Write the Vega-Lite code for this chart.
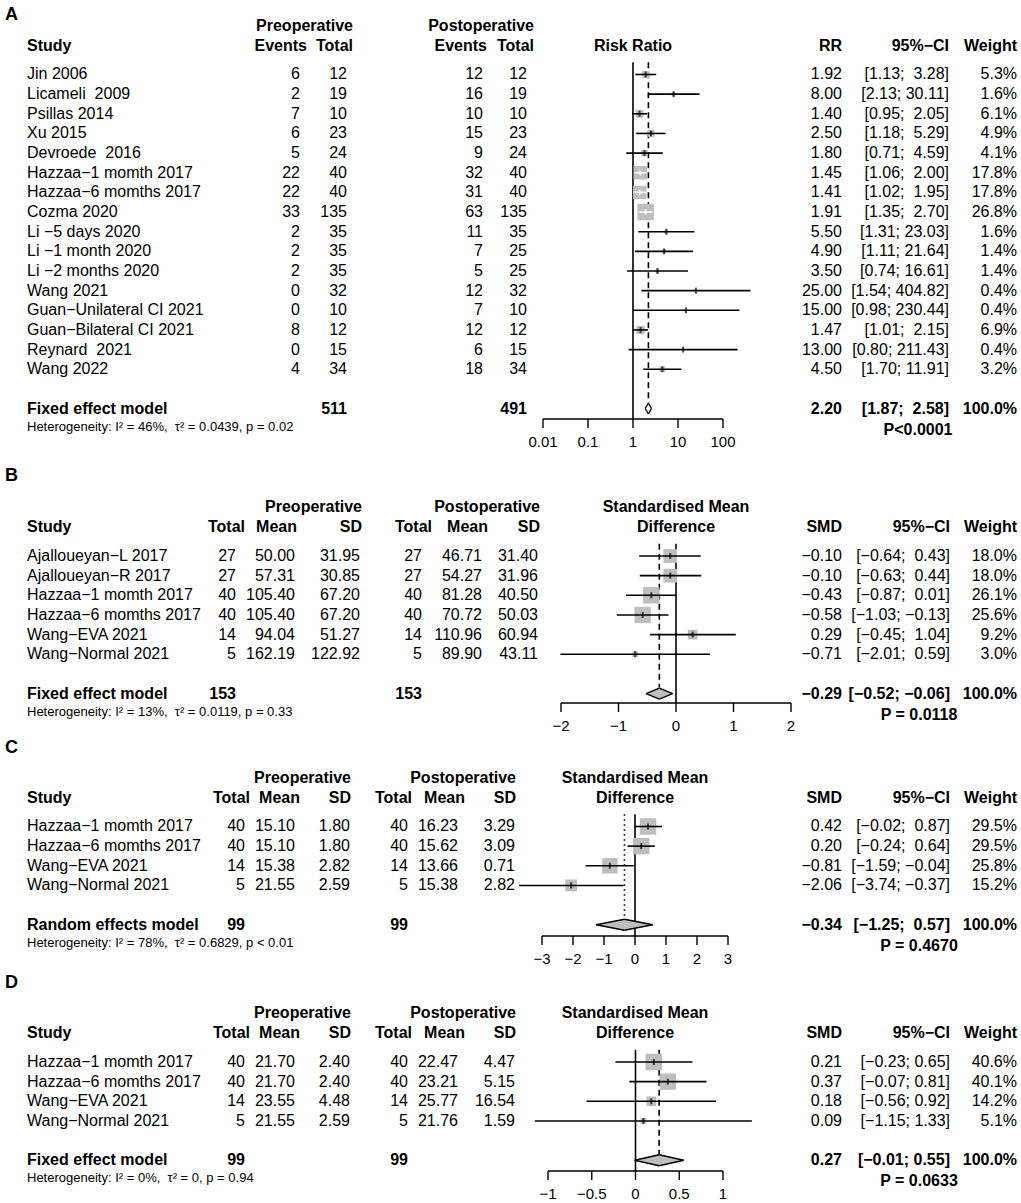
{
"$schema":"https://vega.github.io/schema/vega-lite/v6.json",
"padding":0,
"bounds":"flush",
"spacing":0,
"config":{
 "view":{"stroke":null},
 "font":"Liberation Sans",
 "text":{"font":"Liberation Sans","fontSize":16,"baseline":"middle","color":"black"},
 "rule":{"color":"black","strokeWidth":1.6},
 "line":{"color":"black","strokeWidth":1.4},
 "tick":{"color":"black"}
},
"vconcat":[
{
"width":1021,"height":419,
"data":{"values":[
{"type":"s","row":0,"study":"Jin 2006","ev_pre":6,"n_pre":12,"ev_post":12,"n_post":12,"est":1.92,"lo":1.13,"hi":3.28,"ci":"[1.13;\u00a0\u00a03.28]","w":0.053},
{"type":"s","row":1,"study":"Licameli\u00a0 2009","ev_pre":2,"n_pre":19,"ev_post":16,"n_post":19,"est":8.00,"lo":2.13,"hi":30.11,"ci":"[2.13; 30.11]","w":0.016},
{"type":"s","row":2,"study":"Psillas 2014","ev_pre":7,"n_pre":10,"ev_post":10,"n_post":10,"est":1.40,"lo":0.95,"hi":2.05,"ci":"[0.95;\u00a0\u00a02.05]","w":0.061},
{"type":"s","row":3,"study":"Xu 2015","ev_pre":6,"n_pre":23,"ev_post":15,"n_post":23,"est":2.50,"lo":1.18,"hi":5.29,"ci":"[1.18;\u00a0\u00a05.29]","w":0.049},
{"type":"s","row":4,"study":"Devroede\u00a0 2016","ev_pre":5,"n_pre":24,"ev_post":9,"n_post":24,"est":1.80,"lo":0.71,"hi":4.59,"ci":"[0.71;\u00a0\u00a04.59]","w":0.041},
{"type":"s","row":5,"study":"Hazzaa−1 momth 2017","ev_pre":22,"n_pre":40,"ev_post":32,"n_post":40,"est":1.45,"lo":1.06,"hi":2.00,"ci":"[1.06;\u00a0\u00a02.00]","w":0.178},
{"type":"s","row":6,"study":"Hazzaa−6 momths 2017","ev_pre":22,"n_pre":40,"ev_post":31,"n_post":40,"est":1.41,"lo":1.02,"hi":1.95,"ci":"[1.02;\u00a0\u00a01.95]","w":0.178},
{"type":"s","row":7,"study":"Cozma 2020","ev_pre":33,"n_pre":135,"ev_post":63,"n_post":135,"est":1.91,"lo":1.35,"hi":2.70,"ci":"[1.35;\u00a0\u00a02.70]","w":0.268},
{"type":"s","row":8,"study":"Li −5 days 2020","ev_pre":2,"n_pre":35,"ev_post":11,"n_post":35,"est":5.50,"lo":1.31,"hi":23.03,"ci":"[1.31; 23.03]","w":0.016},
{"type":"s","row":9,"study":"Li −1 month 2020","ev_pre":2,"n_pre":35,"ev_post":7,"n_post":25,"est":4.90,"lo":1.11,"hi":21.64,"ci":"[1.11; 21.64]","w":0.014},
{"type":"s","row":10,"study":"Li −2 months 2020","ev_pre":2,"n_pre":35,"ev_post":5,"n_post":25,"est":3.50,"lo":0.74,"hi":16.61,"ci":"[0.74; 16.61]","w":0.014},
{"type":"s","row":11,"study":"Wang 2021","ev_pre":0,"n_pre":32,"ev_post":12,"n_post":32,"est":25.00,"lo":1.54,"hi":404.82,"ci":"[1.54; 404.82]","w":0.004},
{"type":"s","row":12,"study":"Guan−Unilateral CI 2021","ev_pre":0,"n_pre":10,"ev_post":7,"n_post":10,"est":15.00,"lo":0.98,"hi":230.44,"ci":"[0.98; 230.44]","w":0.004},
{"type":"s","row":13,"study":"Guan−Bilateral CI 2021","ev_pre":8,"n_pre":12,"ev_post":12,"n_post":12,"est":1.47,"lo":1.01,"hi":2.15,"ci":"[1.01;\u00a0\u00a02.15]","w":0.069},
{"type":"s","row":14,"study":"Reynard\u00a0 2021","ev_pre":0,"n_pre":15,"ev_post":6,"n_post":15,"est":13.00,"lo":0.80,"hi":211.43,"ci":"[0.80; 211.43]","w":0.004},
{"type":"s","row":15,"study":"Wang 2022","ev_pre":4,"n_pre":34,"ev_post":18,"n_post":34,"est":4.50,"lo":1.70,"hi":11.91,"ci":"[1.70; 11.91]","w":0.032},
{"type":"m","row":17,"study":"Fixed effect model","n_pre":511,"n_post":491,"est":2.20,"lo":1.87,"hi":2.58,"ci":"[1.87;\u00a0\u00a02.58]","w":1.0,"het":"Heterogeneity: I² = 46%,\u00a0 τ² = 0.0439, p = 0.02","p":"P<0.0001","ticks":[0.01,0.1,1,10,100]}
]},
"encoding":{"y":{"field":"row","type":"quantitative","axis":null,"scale":{"domain":[-3.791,17.532],"reverse":true,"nice":false,"zero":false}}},
"resolve":{"scale":{"x":"independent"}},
"layer":[
{"layer":[
{"transform":[{"filter":"datum.type=='m'"}],"mark":{"type":"text","text":"A","align":"left","fontWeight":"bold","fontSize":18},"encoding":{"x":{"datum":0,"type":"quantitative","axis":null,"scale":{"domain":[0,1,2,2.5,3,3.5,4,4.5,5,5.5,6,7,7.5,8,9],"range":[5,27,300,307,347,353,483,487,527,534,633,842,918,949,1017],"nice":false,"zero":false}},"y":{"datum":-3.05,"type":"quantitative","axis":null}}},
{"transform":[{"filter":"datum.type=='m'"}],"mark":{"type":"text","text":"Preoperative","align":"right","fontWeight":"bold"},"encoding":{"x":{"datum":3.5,"type":"quantitative","axis":null},"y":{"datum":-2.49,"type":"quantitative","axis":null}}},
{"transform":[{"filter":"datum.type=='m'"}],"mark":{"type":"text","text":"Postoperative","align":"right","fontWeight":"bold"},"encoding":{"x":{"datum":5.5,"type":"quantitative","axis":null},"y":{"datum":-2.49,"type":"quantitative","axis":null}}},
{"transform":[{"filter":"datum.type=='m'"}],"mark":{"type":"text","text":"Study","align":"left","fontWeight":"bold"},"encoding":{"x":{"datum":1,"type":"quantitative","axis":null},"y":{"datum":-1.47,"type":"quantitative","axis":null}}},
{"transform":[{"filter":"datum.type=='m'"}],"mark":{"type":"text","text":"Events","align":"right","fontWeight":"bold"},"encoding":{"x":{"datum":2.5,"type":"quantitative","axis":null},"y":{"datum":-1.47,"type":"quantitative","axis":null}}},
{"transform":[{"filter":"datum.type=='m'"}],"mark":{"type":"text","text":"Total","align":"right","fontWeight":"bold"},"encoding":{"x":{"datum":3.5,"type":"quantitative","axis":null},"y":{"datum":-1.47,"type":"quantitative","axis":null}}},
{"transform":[{"filter":"datum.type=='m'"}],"mark":{"type":"text","text":"Events","align":"right","fontWeight":"bold"},"encoding":{"x":{"datum":4.5,"type":"quantitative","axis":null},"y":{"datum":-1.47,"type":"quantitative","axis":null}}},
{"transform":[{"filter":"datum.type=='m'"}],"mark":{"type":"text","text":"Total","align":"right","fontWeight":"bold"},"encoding":{"x":{"datum":5.5,"type":"quantitative","axis":null},"y":{"datum":-1.47,"type":"quantitative","axis":null}}},
{"transform":[{"filter":"datum.type=='m'"}],"mark":{"type":"text","text":"Risk Ratio","align":"center","fontWeight":"bold"},"encoding":{"x":{"datum":6,"type":"quantitative","axis":null},"y":{"datum":-1.47,"type":"quantitative","axis":null}}},
{"transform":[{"filter":"datum.type=='m'"}],"mark":{"type":"text","text":"RR","align":"right","fontWeight":"bold"},"encoding":{"x":{"datum":7,"type":"quantitative","axis":null},"y":{"datum":-1.47,"type":"quantitative","axis":null}}},
{"transform":[{"filter":"datum.type=='m'"}],"mark":{"type":"text","text":"95%−CI","align":"right","fontWeight":"bold"},"encoding":{"x":{"datum":8,"type":"quantitative","axis":null},"y":{"datum":-1.47,"type":"quantitative","axis":null}}},
{"transform":[{"filter":"datum.type=='m'"}],"mark":{"type":"text","text":"Weight","align":"right","fontWeight":"bold"},"encoding":{"x":{"datum":9,"type":"quantitative","axis":null},"y":{"datum":-1.47,"type":"quantitative","axis":null}}},
{"transform":[{"filter":"datum.type=='s'"}],"mark":{"type":"text","align":"left"},"encoding":{"x":{"datum":1,"type":"quantitative","axis":null},"text":{"field":"study"}}},
{"transform":[{"filter":"datum.type=='s'"}],"mark":{"type":"text","align":"right"},"encoding":{"x":{"datum":2,"type":"quantitative","axis":null},"text":{"field":"ev_pre","type":"quantitative","format":"d"}}},
{"transform":[{"filter":"datum.type=='s'"}],"mark":{"type":"text","align":"right"},"encoding":{"x":{"datum":3,"type":"quantitative","axis":null},"text":{"field":"n_pre","type":"quantitative","format":"d"}}},
{"transform":[{"filter":"datum.type=='s'"}],"mark":{"type":"text","align":"right"},"encoding":{"x":{"datum":4,"type":"quantitative","axis":null},"text":{"field":"ev_post","type":"quantitative","format":"d"}}},
{"transform":[{"filter":"datum.type=='s'"}],"mark":{"type":"text","align":"right"},"encoding":{"x":{"datum":5,"type":"quantitative","axis":null},"text":{"field":"n_post","type":"quantitative","format":"d"}}},
{"transform":[{"filter":"datum.type=='s'"}],"mark":{"type":"text","align":"right"},"encoding":{"x":{"datum":7,"type":"quantitative","axis":null},"text":{"field":"est","type":"quantitative","format":".2f"}}},
{"transform":[{"filter":"datum.type=='s'"}],"mark":{"type":"text","align":"right"},"encoding":{"x":{"datum":8,"type":"quantitative","axis":null},"text":{"field":"ci"}}},
{"transform":[{"filter":"datum.type=='s'"}],"mark":{"type":"text","align":"right"},"encoding":{"x":{"datum":9,"type":"quantitative","axis":null},"text":{"field":"w","type":"quantitative","format":".1%"}}},
{"transform":[{"filter":"datum.type=='m'"}],"mark":{"type":"text","align":"left","fontWeight":"bold"},"encoding":{"x":{"datum":1,"type":"quantitative","axis":null},"text":{"field":"study"}}},
{"transform":[{"filter":"datum.type=='m'"}],"mark":{"type":"text","align":"right","fontWeight":"bold"},"encoding":{"x":{"datum":3,"type":"quantitative","axis":null},"text":{"field":"n_pre","type":"quantitative","format":"d"}}},
{"transform":[{"filter":"datum.type=='m'"}],"mark":{"type":"text","align":"right","fontWeight":"bold"},"encoding":{"x":{"datum":5,"type":"quantitative","axis":null},"text":{"field":"n_post","type":"quantitative","format":"d"}}},
{"transform":[{"filter":"datum.type=='m'"}],"mark":{"type":"text","align":"right","fontWeight":"bold"},"encoding":{"x":{"datum":7,"type":"quantitative","axis":null},"text":{"field":"est","type":"quantitative","format":".2f"}}},
{"transform":[{"filter":"datum.type=='m'"}],"mark":{"type":"text","align":"right","fontWeight":"bold"},"encoding":{"x":{"datum":8,"type":"quantitative","axis":null},"text":{"field":"ci"}}},
{"transform":[{"filter":"datum.type=='m'"}],"mark":{"type":"text","align":"right","fontWeight":"bold"},"encoding":{"x":{"datum":9,"type":"quantitative","axis":null},"text":{"field":"w","type":"quantitative","format":".1%"}}},
{"transform":[{"filter":"datum.type=='m'"}],"mark":{"type":"text","align":"left","fontSize":13,"dy":18},"encoding":{"x":{"datum":1,"type":"quantitative","axis":null},"text":{"field":"het"}}},
{"transform":[{"filter":"datum.type=='m'"}],"mark":{"type":"text","align":"center","fontWeight":"bold","dy":21},"encoding":{"x":{"datum":7.5,"type":"quantitative","axis":null},"text":{"field":"p"}}}
]},
{"resolve":{"scale":{"size":"independent"}},"layer":[
{"transform":[{"filter":"datum.type=='m'"}],"mark":{"type":"rule"},"encoding":{"x":{"datum":1,"type":"quantitative","axis":null,"scale":{"type":"log","domain":[0.01,100],"range":[543,723]}},"y":{"datum":-0.62,"type":"quantitative","axis":null},"y2":{"datum":17.532}}},
{"transform":[{"filter":"datum.type=='m'"},{"flatten":["ticks"]}],"mark":{"type":"line","strokeWidth":1.4},"encoding":{"x":{"field":"ticks","type":"quantitative","axis":null},"y":{"datum":17.532,"type":"quantitative","axis":null}}},
{"transform":[{"filter":"datum.type=='m'"},{"flatten":["ticks"]}],"mark":{"type":"rule","strokeWidth":1.4,"y2Offset":9},"encoding":{"x":{"field":"ticks","type":"quantitative","axis":null},"y":{"datum":17.532,"type":"quantitative","axis":null},"y2":{"datum":17.532}}},
{"transform":[{"filter":"datum.type=='m'"},{"flatten":["ticks"]}],"mark":{"type":"text","align":"center","fontSize":15,"dy":23},"encoding":{"x":{"field":"ticks","type":"quantitative","axis":null},"y":{"datum":17.532,"type":"quantitative","axis":null},"text":{"field":"ticks","type":"quantitative","format":"~g"}}},
{"transform":[{"filter":"datum.type=='m'"}],"mark":{"type":"rule","strokeDash":[6,4],"y2Offset":-6},"encoding":{"x":{"field":"est","type":"quantitative","axis":null},"y":{"datum":-0.62,"type":"quantitative","axis":null},"y2":{"field":"row"}}},
{"transform":[{"filter":"datum.type=='s'"}],"mark":{"type":"square","color":"#BEBEBE","opacity":1},"encoding":{"x":{"field":"est","type":"quantitative","axis":null},"size":{"field":"w","type":"quantitative","scale":{"domain":[0,0.268],"range":[0,272]},"legend":null}}},
{"transform":[{"filter":"datum.type=='s'"}],"mark":{"type":"rule"},"encoding":{"x":{"field":"lo","type":"quantitative","axis":null},"x2":{"field":"hi"},"color":{"condition":{"test":"datum.w > 0.15","value":"white"},"value":"black"}}},
{"transform":[{"filter":"datum.type=='s'"}],"mark":{"type":"tick","orient":"vertical","size":6,"thickness":2},"encoding":{"x":{"field":"est","type":"quantitative","axis":null},"color":{"condition":{"test":"datum.w > 0.15","value":"white"},"value":"black"}}},
{"transform":[{"filter":"datum.type=='m'"},{"fold":["lo","est","hi"],"as":["k","v"]}],"mark":{"type":"trail","color":"white"},"encoding":{"x":{"field":"v","type":"quantitative","axis":null},"size":{"field":"k","type":"nominal","scale":{"type":"ordinal","domain":["lo","est","hi"],"range":[0,11,0]},"legend":null},"order":{"field":"v","type":"quantitative"}}},
{"transform":[{"filter":"datum.type=='m'"}],"mark":{"type":"rule","strokeWidth":1.3,"y2Offset":-5.5},"encoding":{"x":{"field":"lo","type":"quantitative","axis":null},"x2":{"field":"est"},"y2":{"field":"row"}}},
{"transform":[{"filter":"datum.type=='m'"}],"mark":{"type":"rule","strokeWidth":1.3,"y2Offset":5.5},"encoding":{"x":{"field":"lo","type":"quantitative","axis":null},"x2":{"field":"est"},"y2":{"field":"row"}}},
{"transform":[{"filter":"datum.type=='m'"}],"mark":{"type":"rule","strokeWidth":1.3,"yOffset":-5.5},"encoding":{"x":{"field":"est","type":"quantitative","axis":null},"x2":{"field":"hi"},"y2":{"field":"row"}}},
{"transform":[{"filter":"datum.type=='m'"}],"mark":{"type":"rule","strokeWidth":1.3,"yOffset":5.5},"encoding":{"x":{"field":"est","type":"quantitative","axis":null},"x2":{"field":"hi"},"y2":{"field":"row"}}}
]}
]
},
{
"width":1021,"height":284,
"data":{"values":[
{"type":"s","row":0,"study":"Ajalloueyan−L 2017","n_pre":27,"m_pre":50.00,"sd_pre":31.95,"n_post":27,"m_post":46.71,"sd_post":31.40,"est":-0.10,"lo":-0.64,"hi":0.43,"ci":"[−0.64;\u00a0\u00a00.43]","w":0.180},
{"type":"s","row":1,"study":"Ajalloueyan−R 2017","n_pre":27,"m_pre":57.31,"sd_pre":30.85,"n_post":27,"m_post":54.27,"sd_post":31.96,"est":-0.10,"lo":-0.63,"hi":0.44,"ci":"[−0.63;\u00a0\u00a00.44]","w":0.180},
{"type":"s","row":2,"study":"Hazzaa−1 momth 2017","n_pre":40,"m_pre":105.40,"sd_pre":67.20,"n_post":40,"m_post":81.28,"sd_post":40.50,"est":-0.43,"lo":-0.87,"hi":0.01,"ci":"[−0.87;\u00a0\u00a00.01]","w":0.261},
{"type":"s","row":3,"study":"Hazzaa−6 momths 2017","n_pre":40,"m_pre":105.40,"sd_pre":67.20,"n_post":40,"m_post":70.72,"sd_post":50.03,"est":-0.58,"lo":-1.03,"hi":-0.13,"ci":"[−1.03; −0.13]","w":0.256},
{"type":"s","row":4,"study":"Wang−EVA 2021","n_pre":14,"m_pre":94.04,"sd_pre":51.27,"n_post":14,"m_post":110.96,"sd_post":60.94,"est":0.29,"lo":-0.45,"hi":1.04,"ci":"[−0.45;\u00a0\u00a01.04]","w":0.092},
{"type":"s","row":5,"study":"Wang−Normal 2021","n_pre":5,"m_pre":162.19,"sd_pre":122.92,"n_post":5,"m_post":89.90,"sd_post":43.11,"est":-0.71,"lo":-2.01,"hi":0.59,"ci":"[−2.01;\u00a0\u00a00.59]","w":0.030},
{"type":"m","row":7,"study":"Fixed effect model","n_pre":153,"n_post":153,"est":-0.29,"lo":-0.52,"hi":-0.06,"ci":"[−0.52; −0.06]","w":1.0,"het":"Heterogeneity: I² = 13%,\u00a0 τ² = 0.0119, p = 0.33","p":"P = 0.0118","ticks":[-2,-1,0,1,2]}
]},
"encoding":{"y":{"field":"row","type":"quantitative","axis":null,"scale":{"domain":[-6.972,7.481],"reverse":true,"nice":false,"zero":false}}},
"resolve":{"scale":{"x":"independent"}},
"layer":[
{"layer":[
{"transform":[{"filter":"datum.type=='m'"}],"mark":{"type":"text","text":"B","align":"left","fontWeight":"bold","fontSize":18},"encoding":{"x":{"datum":0,"type":"quantitative","axis":null,"scale":{"domain":[0,1,2,2.5,3,3.5,4,4.5,5,5.5,6,6.5,7,7.5,8,9,9.5,10,11],"range":[5,27,236,245,295,297,360,362,422,432,482,488,538,540,676,842,919,950,1017],"nice":false,"zero":false}},"y":{"datum":-4.07,"type":"quantitative","axis":null}}},
{"transform":[{"filter":"datum.type=='m'"}],"mark":{"type":"text","text":"Preoperative","align":"right","fontWeight":"bold"},"encoding":{"x":{"datum":4.5,"type":"quantitative","axis":null},"y":{"datum":-2.49,"type":"quantitative","axis":null}}},
{"transform":[{"filter":"datum.type=='m'"}],"mark":{"type":"text","text":"Postoperative","align":"right","fontWeight":"bold"},"encoding":{"x":{"datum":7.5,"type":"quantitative","axis":null},"y":{"datum":-2.49,"type":"quantitative","axis":null}}},
{"transform":[{"filter":"datum.type=='m'"}],"mark":{"type":"text","text":"Standardised Mean","align":"center","fontWeight":"bold"},"encoding":{"x":{"datum":8,"type":"quantitative","axis":null},"y":{"datum":-2.49,"type":"quantitative","axis":null}}},
{"transform":[{"filter":"datum.type=='m'"}],"mark":{"type":"text","text":"Study","align":"left","fontWeight":"bold"},"encoding":{"x":{"datum":1,"type":"quantitative","axis":null},"y":{"datum":-1.47,"type":"quantitative","axis":null}}},
{"transform":[{"filter":"datum.type=='m'"}],"mark":{"type":"text","text":"Total","align":"right","fontWeight":"bold"},"encoding":{"x":{"datum":2.5,"type":"quantitative","axis":null},"y":{"datum":-1.47,"type":"quantitative","axis":null}}},
{"transform":[{"filter":"datum.type=='m'"}],"mark":{"type":"text","text":"Mean","align":"right","fontWeight":"bold"},"encoding":{"x":{"datum":3.5,"type":"quantitative","axis":null},"y":{"datum":-1.47,"type":"quantitative","axis":null}}},
{"transform":[{"filter":"datum.type=='m'"}],"mark":{"type":"text","text":"SD","align":"right","fontWeight":"bold"},"encoding":{"x":{"datum":4.5,"type":"quantitative","axis":null},"y":{"datum":-1.47,"type":"quantitative","axis":null}}},
{"transform":[{"filter":"datum.type=='m'"}],"mark":{"type":"text","text":"Total","align":"right","fontWeight":"bold"},"encoding":{"x":{"datum":5.5,"type":"quantitative","axis":null},"y":{"datum":-1.47,"type":"quantitative","axis":null}}},
{"transform":[{"filter":"datum.type=='m'"}],"mark":{"type":"text","text":"Mean","align":"right","fontWeight":"bold"},"encoding":{"x":{"datum":6.5,"type":"quantitative","axis":null},"y":{"datum":-1.47,"type":"quantitative","axis":null}}},
{"transform":[{"filter":"datum.type=='m'"}],"mark":{"type":"text","text":"SD","align":"right","fontWeight":"bold"},"encoding":{"x":{"datum":7.5,"type":"quantitative","axis":null},"y":{"datum":-1.47,"type":"quantitative","axis":null}}},
{"transform":[{"filter":"datum.type=='m'"}],"mark":{"type":"text","text":"Difference","align":"center","fontWeight":"bold"},"encoding":{"x":{"datum":8,"type":"quantitative","axis":null},"y":{"datum":-1.47,"type":"quantitative","axis":null}}},
{"transform":[{"filter":"datum.type=='m'"}],"mark":{"type":"text","text":"SMD","align":"right","fontWeight":"bold"},"encoding":{"x":{"datum":9,"type":"quantitative","axis":null},"y":{"datum":-1.47,"type":"quantitative","axis":null}}},
{"transform":[{"filter":"datum.type=='m'"}],"mark":{"type":"text","text":"95%−CI","align":"right","fontWeight":"bold"},"encoding":{"x":{"datum":10,"type":"quantitative","axis":null},"y":{"datum":-1.47,"type":"quantitative","axis":null}}},
{"transform":[{"filter":"datum.type=='m'"}],"mark":{"type":"text","text":"Weight","align":"right","fontWeight":"bold"},"encoding":{"x":{"datum":11,"type":"quantitative","axis":null},"y":{"datum":-1.47,"type":"quantitative","axis":null}}},
{"transform":[{"filter":"datum.type=='s'"}],"mark":{"type":"text","align":"left"},"encoding":{"x":{"datum":1,"type":"quantitative","axis":null},"text":{"field":"study"}}},
{"transform":[{"filter":"datum.type=='s'"}],"mark":{"type":"text","align":"right"},"encoding":{"x":{"datum":2,"type":"quantitative","axis":null},"text":{"field":"n_pre","type":"quantitative","format":"d"}}},
{"transform":[{"filter":"datum.type=='s'"}],"mark":{"type":"text","align":"right"},"encoding":{"x":{"datum":3,"type":"quantitative","axis":null},"text":{"field":"m_pre","type":"quantitative","format":".2f"}}},
{"transform":[{"filter":"datum.type=='s'"}],"mark":{"type":"text","align":"right"},"encoding":{"x":{"datum":4,"type":"quantitative","axis":null},"text":{"field":"sd_pre","type":"quantitative","format":".2f"}}},
{"transform":[{"filter":"datum.type=='s'"}],"mark":{"type":"text","align":"right"},"encoding":{"x":{"datum":5,"type":"quantitative","axis":null},"text":{"field":"n_post","type":"quantitative","format":"d"}}},
{"transform":[{"filter":"datum.type=='s'"}],"mark":{"type":"text","align":"right"},"encoding":{"x":{"datum":6,"type":"quantitative","axis":null},"text":{"field":"m_post","type":"quantitative","format":".2f"}}},
{"transform":[{"filter":"datum.type=='s'"}],"mark":{"type":"text","align":"right"},"encoding":{"x":{"datum":7,"type":"quantitative","axis":null},"text":{"field":"sd_post","type":"quantitative","format":".2f"}}},
{"transform":[{"filter":"datum.type=='s'"}],"mark":{"type":"text","align":"right"},"encoding":{"x":{"datum":9,"type":"quantitative","axis":null},"text":{"field":"est","type":"quantitative","format":".2f"}}},
{"transform":[{"filter":"datum.type=='s'"}],"mark":{"type":"text","align":"right"},"encoding":{"x":{"datum":10,"type":"quantitative","axis":null},"text":{"field":"ci"}}},
{"transform":[{"filter":"datum.type=='s'"}],"mark":{"type":"text","align":"right"},"encoding":{"x":{"datum":11,"type":"quantitative","axis":null},"text":{"field":"w","type":"quantitative","format":".1%"}}},
{"transform":[{"filter":"datum.type=='m'"}],"mark":{"type":"text","align":"left","fontWeight":"bold"},"encoding":{"x":{"datum":1,"type":"quantitative","axis":null},"text":{"field":"study"}}},
{"transform":[{"filter":"datum.type=='m'"}],"mark":{"type":"text","align":"right","fontWeight":"bold"},"encoding":{"x":{"datum":2,"type":"quantitative","axis":null},"text":{"field":"n_pre","type":"quantitative","format":"d"}}},
{"transform":[{"filter":"datum.type=='m'"}],"mark":{"type":"text","align":"right","fontWeight":"bold"},"encoding":{"x":{"datum":5,"type":"quantitative","axis":null},"text":{"field":"n_post","type":"quantitative","format":"d"}}},
{"transform":[{"filter":"datum.type=='m'"}],"mark":{"type":"text","align":"right","fontWeight":"bold"},"encoding":{"x":{"datum":9,"type":"quantitative","axis":null},"text":{"field":"est","type":"quantitative","format":".2f"}}},
{"transform":[{"filter":"datum.type=='m'"}],"mark":{"type":"text","align":"right","fontWeight":"bold"},"encoding":{"x":{"datum":10,"type":"quantitative","axis":null},"text":{"field":"ci"}}},
{"transform":[{"filter":"datum.type=='m'"}],"mark":{"type":"text","align":"right","fontWeight":"bold"},"encoding":{"x":{"datum":11,"type":"quantitative","axis":null},"text":{"field":"w","type":"quantitative","format":".1%"}}},
{"transform":[{"filter":"datum.type=='m'"}],"mark":{"type":"text","align":"left","fontSize":13,"dy":18},"encoding":{"x":{"datum":1,"type":"quantitative","axis":null},"text":{"field":"het"}}},
{"transform":[{"filter":"datum.type=='m'"}],"mark":{"type":"text","align":"center","fontWeight":"bold","dy":21},"encoding":{"x":{"datum":9.5,"type":"quantitative","axis":null},"text":{"field":"p"}}}
]},
{"resolve":{"scale":{"size":"independent"}},"layer":[
{"transform":[{"filter":"datum.type=='m'"}],"mark":{"type":"rule"},"encoding":{"x":{"datum":0,"type":"quantitative","axis":null,"scale":{"domain":[-2,2],"range":[561,791],"nice":false,"zero":false}},"y":{"datum":-0.62,"type":"quantitative","axis":null},"y2":{"datum":7.481}}},
{"transform":[{"filter":"datum.type=='m'"},{"flatten":["ticks"]}],"mark":{"type":"line","strokeWidth":1.4},"encoding":{"x":{"field":"ticks","type":"quantitative","axis":null},"y":{"datum":7.481,"type":"quantitative","axis":null}}},
{"transform":[{"filter":"datum.type=='m'"},{"flatten":["ticks"]}],"mark":{"type":"rule","strokeWidth":1.4,"y2Offset":9},"encoding":{"x":{"field":"ticks","type":"quantitative","axis":null},"y":{"datum":7.481,"type":"quantitative","axis":null},"y2":{"datum":7.481}}},
{"transform":[{"filter":"datum.type=='m'"},{"flatten":["ticks"]}],"mark":{"type":"text","align":"center","fontSize":15,"dy":23},"encoding":{"x":{"field":"ticks","type":"quantitative","axis":null},"y":{"datum":7.481,"type":"quantitative","axis":null},"text":{"field":"ticks","type":"quantitative","format":"d"}}},
{"transform":[{"filter":"datum.type=='m'"}],"mark":{"type":"rule","strokeDash":[6,4],"y2Offset":-6},"encoding":{"x":{"field":"est","type":"quantitative","axis":null},"y":{"datum":-0.62,"type":"quantitative","axis":null},"y2":{"field":"row"}}},
{"transform":[{"filter":"datum.type=='s'"}],"mark":{"type":"square","color":"#BEBEBE","opacity":1},"encoding":{"x":{"field":"est","type":"quantitative","axis":null},"size":{"field":"w","type":"quantitative","scale":{"domain":[0,0.261],"range":[0,272]},"legend":null}}},
{"transform":[{"filter":"datum.type=='s'"}],"mark":{"type":"rule"},"encoding":{"x":{"field":"lo","type":"quantitative","axis":null},"x2":{"field":"hi"}}},
{"transform":[{"filter":"datum.type=='s'"}],"mark":{"type":"tick","orient":"vertical","size":6,"thickness":2},"encoding":{"x":{"field":"est","type":"quantitative","axis":null}}},
{"transform":[{"filter":"datum.type=='m'"},{"fold":["lo","est","hi"],"as":["k","v"]}],"mark":{"type":"trail","color":"#BEBEBE"},"encoding":{"x":{"field":"v","type":"quantitative","axis":null},"size":{"field":"k","type":"nominal","scale":{"type":"ordinal","domain":["lo","est","hi"],"range":[0,11,0]},"legend":null},"order":{"field":"v","type":"quantitative"}}},
{"transform":[{"filter":"datum.type=='m'"}],"mark":{"type":"rule","strokeWidth":1.3,"y2Offset":-5.5},"encoding":{"x":{"field":"lo","type":"quantitative","axis":null},"x2":{"field":"est"},"y2":{"field":"row"}}},
{"transform":[{"filter":"datum.type=='m'"}],"mark":{"type":"rule","strokeWidth":1.3,"y2Offset":5.5},"encoding":{"x":{"field":"lo","type":"quantitative","axis":null},"x2":{"field":"est"},"y2":{"field":"row"}}},
{"transform":[{"filter":"datum.type=='m'"}],"mark":{"type":"rule","strokeWidth":1.3,"yOffset":-5.5},"encoding":{"x":{"field":"est","type":"quantitative","axis":null},"x2":{"field":"hi"},"y2":{"field":"row"}}},
{"transform":[{"filter":"datum.type=='m'"}],"mark":{"type":"rule","strokeWidth":1.3,"yOffset":5.5},"encoding":{"x":{"field":"est","type":"quantitative","axis":null},"x2":{"field":"hi"},"y2":{"field":"row"}}}
]}
]
},
{
"width":1021,"height":233,
"data":{"values":[
{"type":"s","row":0,"study":"Hazzaa−1 momth 2017","n_pre":40,"m_pre":15.10,"sd_pre":1.80,"n_post":40,"m_post":16.23,"sd_post":3.29,"est":0.42,"lo":-0.02,"hi":0.87,"ci":"[−0.02;\u00a0\u00a00.87]","w":0.295},
{"type":"s","row":1,"study":"Hazzaa−6 momths 2017","n_pre":40,"m_pre":15.10,"sd_pre":1.80,"n_post":40,"m_post":15.62,"sd_post":3.09,"est":0.20,"lo":-0.24,"hi":0.64,"ci":"[−0.24;\u00a0\u00a00.64]","w":0.295},
{"type":"s","row":2,"study":"Wang−EVA 2021","n_pre":14,"m_pre":15.38,"sd_pre":2.82,"n_post":14,"m_post":13.66,"sd_post":0.71,"est":-0.81,"lo":-1.59,"hi":-0.04,"ci":"[−1.59; −0.04]","w":0.258},
{"type":"s","row":3,"study":"Wang−Normal 2021","n_pre":5,"m_pre":21.55,"sd_pre":2.59,"n_post":5,"m_post":15.38,"sd_post":2.82,"est":-2.06,"lo":-3.74,"hi":-0.37,"ci":"[−3.74; −0.37]","w":0.152},
{"type":"m","row":5,"study":"Random effects model","n_pre":99,"n_post":99,"est":-0.34,"lo":-1.25,"hi":0.57,"ci":"[−1.25;\u00a0\u00a00.57]","w":1.0,"het":"Heterogeneity: I² = 78%,\u00a0 τ² = 0.6829, p < 0.01","p":"P = 0.4670","ticks":[-3,-2,-1,0,1,2,3]}
]},
"encoding":{"y":{"field":"row","type":"quantitative","axis":null,"scale":{"domain":[-6.285,5.573],"reverse":true,"nice":false,"zero":false}}},
"resolve":{"scale":{"x":"independent"}},
"layer":[
{"layer":[
{"transform":[{"filter":"datum.type=='m'"}],"mark":{"type":"text","text":"C","align":"left","fontWeight":"bold","fontSize":18},"encoding":{"x":{"datum":0,"type":"quantitative","axis":null,"scale":{"domain":[0,1,2,2.5,3,3.5,4,4.5,5,5.5,6,6.5,7,7.5,8,9,9.5,10,11],"range":[5,27,245,250,295,300,350,351,408,412,458,465,515,516,635,842,919,950,1017],"nice":false,"zero":false}},"y":{"datum":-4.0,"type":"quantitative","axis":null}}},
{"transform":[{"filter":"datum.type=='m'"}],"mark":{"type":"text","text":"Preoperative","align":"right","fontWeight":"bold"},"encoding":{"x":{"datum":4.5,"type":"quantitative","axis":null},"y":{"datum":-2.49,"type":"quantitative","axis":null}}},
{"transform":[{"filter":"datum.type=='m'"}],"mark":{"type":"text","text":"Postoperative","align":"right","fontWeight":"bold"},"encoding":{"x":{"datum":7.5,"type":"quantitative","axis":null},"y":{"datum":-2.49,"type":"quantitative","axis":null}}},
{"transform":[{"filter":"datum.type=='m'"}],"mark":{"type":"text","text":"Standardised Mean","align":"center","fontWeight":"bold"},"encoding":{"x":{"datum":8,"type":"quantitative","axis":null},"y":{"datum":-2.49,"type":"quantitative","axis":null}}},
{"transform":[{"filter":"datum.type=='m'"}],"mark":{"type":"text","text":"Study","align":"left","fontWeight":"bold"},"encoding":{"x":{"datum":1,"type":"quantitative","axis":null},"y":{"datum":-1.47,"type":"quantitative","axis":null}}},
{"transform":[{"filter":"datum.type=='m'"}],"mark":{"type":"text","text":"Total","align":"right","fontWeight":"bold"},"encoding":{"x":{"datum":2.5,"type":"quantitative","axis":null},"y":{"datum":-1.47,"type":"quantitative","axis":null}}},
{"transform":[{"filter":"datum.type=='m'"}],"mark":{"type":"text","text":"Mean","align":"right","fontWeight":"bold"},"encoding":{"x":{"datum":3.5,"type":"quantitative","axis":null},"y":{"datum":-1.47,"type":"quantitative","axis":null}}},
{"transform":[{"filter":"datum.type=='m'"}],"mark":{"type":"text","text":"SD","align":"right","fontWeight":"bold"},"encoding":{"x":{"datum":4.5,"type":"quantitative","axis":null},"y":{"datum":-1.47,"type":"quantitative","axis":null}}},
{"transform":[{"filter":"datum.type=='m'"}],"mark":{"type":"text","text":"Total","align":"right","fontWeight":"bold"},"encoding":{"x":{"datum":5.5,"type":"quantitative","axis":null},"y":{"datum":-1.47,"type":"quantitative","axis":null}}},
{"transform":[{"filter":"datum.type=='m'"}],"mark":{"type":"text","text":"Mean","align":"right","fontWeight":"bold"},"encoding":{"x":{"datum":6.5,"type":"quantitative","axis":null},"y":{"datum":-1.47,"type":"quantitative","axis":null}}},
{"transform":[{"filter":"datum.type=='m'"}],"mark":{"type":"text","text":"SD","align":"right","fontWeight":"bold"},"encoding":{"x":{"datum":7.5,"type":"quantitative","axis":null},"y":{"datum":-1.47,"type":"quantitative","axis":null}}},
{"transform":[{"filter":"datum.type=='m'"}],"mark":{"type":"text","text":"Difference","align":"center","fontWeight":"bold"},"encoding":{"x":{"datum":8,"type":"quantitative","axis":null},"y":{"datum":-1.47,"type":"quantitative","axis":null}}},
{"transform":[{"filter":"datum.type=='m'"}],"mark":{"type":"text","text":"SMD","align":"right","fontWeight":"bold"},"encoding":{"x":{"datum":9,"type":"quantitative","axis":null},"y":{"datum":-1.47,"type":"quantitative","axis":null}}},
{"transform":[{"filter":"datum.type=='m'"}],"mark":{"type":"text","text":"95%−CI","align":"right","fontWeight":"bold"},"encoding":{"x":{"datum":10,"type":"quantitative","axis":null},"y":{"datum":-1.47,"type":"quantitative","axis":null}}},
{"transform":[{"filter":"datum.type=='m'"}],"mark":{"type":"text","text":"Weight","align":"right","fontWeight":"bold"},"encoding":{"x":{"datum":11,"type":"quantitative","axis":null},"y":{"datum":-1.47,"type":"quantitative","axis":null}}},
{"transform":[{"filter":"datum.type=='s'"}],"mark":{"type":"text","align":"left"},"encoding":{"x":{"datum":1,"type":"quantitative","axis":null},"text":{"field":"study"}}},
{"transform":[{"filter":"datum.type=='s'"}],"mark":{"type":"text","align":"right"},"encoding":{"x":{"datum":2,"type":"quantitative","axis":null},"text":{"field":"n_pre","type":"quantitative","format":"d"}}},
{"transform":[{"filter":"datum.type=='s'"}],"mark":{"type":"text","align":"right"},"encoding":{"x":{"datum":3,"type":"quantitative","axis":null},"text":{"field":"m_pre","type":"quantitative","format":".2f"}}},
{"transform":[{"filter":"datum.type=='s'"}],"mark":{"type":"text","align":"right"},"encoding":{"x":{"datum":4,"type":"quantitative","axis":null},"text":{"field":"sd_pre","type":"quantitative","format":".2f"}}},
{"transform":[{"filter":"datum.type=='s'"}],"mark":{"type":"text","align":"right"},"encoding":{"x":{"datum":5,"type":"quantitative","axis":null},"text":{"field":"n_post","type":"quantitative","format":"d"}}},
{"transform":[{"filter":"datum.type=='s'"}],"mark":{"type":"text","align":"right"},"encoding":{"x":{"datum":6,"type":"quantitative","axis":null},"text":{"field":"m_post","type":"quantitative","format":".2f"}}},
{"transform":[{"filter":"datum.type=='s'"}],"mark":{"type":"text","align":"right"},"encoding":{"x":{"datum":7,"type":"quantitative","axis":null},"text":{"field":"sd_post","type":"quantitative","format":".2f"}}},
{"transform":[{"filter":"datum.type=='s'"}],"mark":{"type":"text","align":"right"},"encoding":{"x":{"datum":9,"type":"quantitative","axis":null},"text":{"field":"est","type":"quantitative","format":".2f"}}},
{"transform":[{"filter":"datum.type=='s'"}],"mark":{"type":"text","align":"right"},"encoding":{"x":{"datum":10,"type":"quantitative","axis":null},"text":{"field":"ci"}}},
{"transform":[{"filter":"datum.type=='s'"}],"mark":{"type":"text","align":"right"},"encoding":{"x":{"datum":11,"type":"quantitative","axis":null},"text":{"field":"w","type":"quantitative","format":".1%"}}},
{"transform":[{"filter":"datum.type=='m'"}],"mark":{"type":"text","align":"left","fontWeight":"bold"},"encoding":{"x":{"datum":1,"type":"quantitative","axis":null},"text":{"field":"study"}}},
{"transform":[{"filter":"datum.type=='m'"}],"mark":{"type":"text","align":"right","fontWeight":"bold"},"encoding":{"x":{"datum":2,"type":"quantitative","axis":null},"text":{"field":"n_pre","type":"quantitative","format":"d"}}},
{"transform":[{"filter":"datum.type=='m'"}],"mark":{"type":"text","align":"right","fontWeight":"bold"},"encoding":{"x":{"datum":5,"type":"quantitative","axis":null},"text":{"field":"n_post","type":"quantitative","format":"d"}}},
{"transform":[{"filter":"datum.type=='m'"}],"mark":{"type":"text","align":"right","fontWeight":"bold"},"encoding":{"x":{"datum":9,"type":"quantitative","axis":null},"text":{"field":"est","type":"quantitative","format":".2f"}}},
{"transform":[{"filter":"datum.type=='m'"}],"mark":{"type":"text","align":"right","fontWeight":"bold"},"encoding":{"x":{"datum":10,"type":"quantitative","axis":null},"text":{"field":"ci"}}},
{"transform":[{"filter":"datum.type=='m'"}],"mark":{"type":"text","align":"right","fontWeight":"bold"},"encoding":{"x":{"datum":11,"type":"quantitative","axis":null},"text":{"field":"w","type":"quantitative","format":".1%"}}},
{"transform":[{"filter":"datum.type=='m'"}],"mark":{"type":"text","align":"left","fontSize":13,"dy":18},"encoding":{"x":{"datum":1,"type":"quantitative","axis":null},"text":{"field":"het"}}},
{"transform":[{"filter":"datum.type=='m'"}],"mark":{"type":"text","align":"center","fontWeight":"bold","dy":21},"encoding":{"x":{"datum":9.5,"type":"quantitative","axis":null},"text":{"field":"p"}}}
]},
{"resolve":{"scale":{"size":"independent"}},"layer":[
{"transform":[{"filter":"datum.type=='m'"}],"mark":{"type":"rule"},"encoding":{"x":{"datum":0,"type":"quantitative","axis":null,"scale":{"domain":[-3,3],"range":[542,728],"nice":false,"zero":false}},"y":{"datum":-0.62,"type":"quantitative","axis":null},"y2":{"datum":5.573}}},
{"transform":[{"filter":"datum.type=='m'"},{"flatten":["ticks"]}],"mark":{"type":"line","strokeWidth":1.4},"encoding":{"x":{"field":"ticks","type":"quantitative","axis":null},"y":{"datum":5.573,"type":"quantitative","axis":null}}},
{"transform":[{"filter":"datum.type=='m'"},{"flatten":["ticks"]}],"mark":{"type":"rule","strokeWidth":1.4,"y2Offset":9},"encoding":{"x":{"field":"ticks","type":"quantitative","axis":null},"y":{"datum":5.573,"type":"quantitative","axis":null},"y2":{"datum":5.573}}},
{"transform":[{"filter":"datum.type=='m'"},{"flatten":["ticks"]}],"mark":{"type":"text","align":"center","fontSize":15,"dy":23},"encoding":{"x":{"field":"ticks","type":"quantitative","axis":null},"y":{"datum":5.573,"type":"quantitative","axis":null},"text":{"field":"ticks","type":"quantitative","format":"d"}}},
{"transform":[{"filter":"datum.type=='m'"}],"mark":{"type":"rule","strokeDash":[1.5,3.5],"y2Offset":0},"encoding":{"x":{"field":"est","type":"quantitative","axis":null},"y":{"datum":-0.62,"type":"quantitative","axis":null},"y2":{"field":"row"}}},
{"transform":[{"filter":"datum.type=='s'"}],"mark":{"type":"square","color":"#BEBEBE","opacity":1},"encoding":{"x":{"field":"est","type":"quantitative","axis":null},"size":{"field":"w","type":"quantitative","scale":{"domain":[0,0.295],"range":[0,272]},"legend":null}}},
{"transform":[{"filter":"datum.type=='s'"}],"mark":{"type":"rule"},"encoding":{"x":{"field":"lo","type":"quantitative","axis":null},"x2":{"field":"hi"}}},
{"transform":[{"filter":"datum.type=='s'"}],"mark":{"type":"tick","orient":"vertical","size":6,"thickness":2},"encoding":{"x":{"field":"est","type":"quantitative","axis":null}}},
{"transform":[{"filter":"datum.type=='m'"},{"fold":["lo","est","hi"],"as":["k","v"]}],"mark":{"type":"trail","color":"#BEBEBE"},"encoding":{"x":{"field":"v","type":"quantitative","axis":null},"size":{"field":"k","type":"nominal","scale":{"type":"ordinal","domain":["lo","est","hi"],"range":[0,11,0]},"legend":null},"order":{"field":"v","type":"quantitative"}}},
{"transform":[{"filter":"datum.type=='m'"}],"mark":{"type":"rule","strokeWidth":1.3,"y2Offset":-5.5},"encoding":{"x":{"field":"lo","type":"quantitative","axis":null},"x2":{"field":"est"},"y2":{"field":"row"}}},
{"transform":[{"filter":"datum.type=='m'"}],"mark":{"type":"rule","strokeWidth":1.3,"y2Offset":5.5},"encoding":{"x":{"field":"lo","type":"quantitative","axis":null},"x2":{"field":"est"},"y2":{"field":"row"}}},
{"transform":[{"filter":"datum.type=='m'"}],"mark":{"type":"rule","strokeWidth":1.3,"yOffset":-5.5},"encoding":{"x":{"field":"est","type":"quantitative","axis":null},"x2":{"field":"hi"},"y2":{"field":"row"}}},
{"transform":[{"filter":"datum.type=='m'"}],"mark":{"type":"rule","strokeWidth":1.3,"yOffset":5.5},"encoding":{"x":{"field":"est","type":"quantitative","axis":null},"x2":{"field":"hi"},"y2":{"field":"row"}}}
]}
]
},
{
"width":1021,"height":235,
"data":{"values":[
{"type":"s","row":0,"study":"Hazzaa−1 momth 2017","n_pre":40,"m_pre":21.70,"sd_pre":2.40,"n_post":40,"m_post":22.47,"sd_post":4.47,"est":0.21,"lo":-0.23,"hi":0.65,"ci":"[−0.23; 0.65]","w":0.406},
{"type":"s","row":1,"study":"Hazzaa−6 momths 2017","n_pre":40,"m_pre":21.70,"sd_pre":2.40,"n_post":40,"m_post":23.21,"sd_post":5.15,"est":0.37,"lo":-0.07,"hi":0.81,"ci":"[−0.07; 0.81]","w":0.401},
{"type":"s","row":2,"study":"Wang−EVA 2021","n_pre":14,"m_pre":23.55,"sd_pre":4.48,"n_post":14,"m_post":25.77,"sd_post":16.54,"est":0.18,"lo":-0.56,"hi":0.92,"ci":"[−0.56; 0.92]","w":0.142},
{"type":"s","row":3,"study":"Wang−Normal 2021","n_pre":5,"m_pre":21.55,"sd_pre":2.59,"n_post":5,"m_post":21.76,"sd_post":1.59,"est":0.09,"lo":-1.15,"hi":1.33,"ci":"[−1.15; 1.33]","w":0.051},
{"type":"m","row":5,"study":"Fixed effect model","n_pre":99,"n_post":99,"est":0.27,"lo":-0.01,"hi":0.55,"ci":"[−0.01; 0.55]","w":1.0,"het":"Heterogeneity: I² = 0%,\u00a0 τ² = 0, p = 0.94","p":"P = 0.0633","ticks":[-1,-0.5,0,0.5,1]}
]},
"encoding":{"y":{"field":"row","type":"quantitative","axis":null,"scale":{"domain":[-6.412,5.547],"reverse":true,"nice":false,"zero":false}}},
"resolve":{"scale":{"x":"independent"}},
"layer":[
{"layer":[
{"transform":[{"filter":"datum.type=='m'"}],"mark":{"type":"text","text":"D","align":"left","fontWeight":"bold","fontSize":18},"encoding":{"x":{"datum":0,"type":"quantitative","axis":null,"scale":{"domain":[0,1,2,2.5,3,3.5,4,4.5,5,5.5,6,6.5,7,7.5,8,9,9.5,10,11],"range":[5,27,245,250,295,300,350,351,408,412,458,465,515,516,635,842,919,950,1017],"nice":false,"zero":false}},"y":{"datum":-4.0,"type":"quantitative","axis":null}}},
{"transform":[{"filter":"datum.type=='m'"}],"mark":{"type":"text","text":"Preoperative","align":"right","fontWeight":"bold"},"encoding":{"x":{"datum":4.5,"type":"quantitative","axis":null},"y":{"datum":-2.49,"type":"quantitative","axis":null}}},
{"transform":[{"filter":"datum.type=='m'"}],"mark":{"type":"text","text":"Postoperative","align":"right","fontWeight":"bold"},"encoding":{"x":{"datum":7.5,"type":"quantitative","axis":null},"y":{"datum":-2.49,"type":"quantitative","axis":null}}},
{"transform":[{"filter":"datum.type=='m'"}],"mark":{"type":"text","text":"Standardised Mean","align":"center","fontWeight":"bold"},"encoding":{"x":{"datum":8,"type":"quantitative","axis":null},"y":{"datum":-2.49,"type":"quantitative","axis":null}}},
{"transform":[{"filter":"datum.type=='m'"}],"mark":{"type":"text","text":"Study","align":"left","fontWeight":"bold"},"encoding":{"x":{"datum":1,"type":"quantitative","axis":null},"y":{"datum":-1.47,"type":"quantitative","axis":null}}},
{"transform":[{"filter":"datum.type=='m'"}],"mark":{"type":"text","text":"Total","align":"right","fontWeight":"bold"},"encoding":{"x":{"datum":2.5,"type":"quantitative","axis":null},"y":{"datum":-1.47,"type":"quantitative","axis":null}}},
{"transform":[{"filter":"datum.type=='m'"}],"mark":{"type":"text","text":"Mean","align":"right","fontWeight":"bold"},"encoding":{"x":{"datum":3.5,"type":"quantitative","axis":null},"y":{"datum":-1.47,"type":"quantitative","axis":null}}},
{"transform":[{"filter":"datum.type=='m'"}],"mark":{"type":"text","text":"SD","align":"right","fontWeight":"bold"},"encoding":{"x":{"datum":4.5,"type":"quantitative","axis":null},"y":{"datum":-1.47,"type":"quantitative","axis":null}}},
{"transform":[{"filter":"datum.type=='m'"}],"mark":{"type":"text","text":"Total","align":"right","fontWeight":"bold"},"encoding":{"x":{"datum":5.5,"type":"quantitative","axis":null},"y":{"datum":-1.47,"type":"quantitative","axis":null}}},
{"transform":[{"filter":"datum.type=='m'"}],"mark":{"type":"text","text":"Mean","align":"right","fontWeight":"bold"},"encoding":{"x":{"datum":6.5,"type":"quantitative","axis":null},"y":{"datum":-1.47,"type":"quantitative","axis":null}}},
{"transform":[{"filter":"datum.type=='m'"}],"mark":{"type":"text","text":"SD","align":"right","fontWeight":"bold"},"encoding":{"x":{"datum":7.5,"type":"quantitative","axis":null},"y":{"datum":-1.47,"type":"quantitative","axis":null}}},
{"transform":[{"filter":"datum.type=='m'"}],"mark":{"type":"text","text":"Difference","align":"center","fontWeight":"bold"},"encoding":{"x":{"datum":8,"type":"quantitative","axis":null},"y":{"datum":-1.47,"type":"quantitative","axis":null}}},
{"transform":[{"filter":"datum.type=='m'"}],"mark":{"type":"text","text":"SMD","align":"right","fontWeight":"bold"},"encoding":{"x":{"datum":9,"type":"quantitative","axis":null},"y":{"datum":-1.47,"type":"quantitative","axis":null}}},
{"transform":[{"filter":"datum.type=='m'"}],"mark":{"type":"text","text":"95%−CI","align":"right","fontWeight":"bold"},"encoding":{"x":{"datum":10,"type":"quantitative","axis":null},"y":{"datum":-1.47,"type":"quantitative","axis":null}}},
{"transform":[{"filter":"datum.type=='m'"}],"mark":{"type":"text","text":"Weight","align":"right","fontWeight":"bold"},"encoding":{"x":{"datum":11,"type":"quantitative","axis":null},"y":{"datum":-1.47,"type":"quantitative","axis":null}}},
{"transform":[{"filter":"datum.type=='s'"}],"mark":{"type":"text","align":"left"},"encoding":{"x":{"datum":1,"type":"quantitative","axis":null},"text":{"field":"study"}}},
{"transform":[{"filter":"datum.type=='s'"}],"mark":{"type":"text","align":"right"},"encoding":{"x":{"datum":2,"type":"quantitative","axis":null},"text":{"field":"n_pre","type":"quantitative","format":"d"}}},
{"transform":[{"filter":"datum.type=='s'"}],"mark":{"type":"text","align":"right"},"encoding":{"x":{"datum":3,"type":"quantitative","axis":null},"text":{"field":"m_pre","type":"quantitative","format":".2f"}}},
{"transform":[{"filter":"datum.type=='s'"}],"mark":{"type":"text","align":"right"},"encoding":{"x":{"datum":4,"type":"quantitative","axis":null},"text":{"field":"sd_pre","type":"quantitative","format":".2f"}}},
{"transform":[{"filter":"datum.type=='s'"}],"mark":{"type":"text","align":"right"},"encoding":{"x":{"datum":5,"type":"quantitative","axis":null},"text":{"field":"n_post","type":"quantitative","format":"d"}}},
{"transform":[{"filter":"datum.type=='s'"}],"mark":{"type":"text","align":"right"},"encoding":{"x":{"datum":6,"type":"quantitative","axis":null},"text":{"field":"m_post","type":"quantitative","format":".2f"}}},
{"transform":[{"filter":"datum.type=='s'"}],"mark":{"type":"text","align":"right"},"encoding":{"x":{"datum":7,"type":"quantitative","axis":null},"text":{"field":"sd_post","type":"quantitative","format":".2f"}}},
{"transform":[{"filter":"datum.type=='s'"}],"mark":{"type":"text","align":"right"},"encoding":{"x":{"datum":9,"type":"quantitative","axis":null},"text":{"field":"est","type":"quantitative","format":".2f"}}},
{"transform":[{"filter":"datum.type=='s'"}],"mark":{"type":"text","align":"right"},"encoding":{"x":{"datum":10,"type":"quantitative","axis":null},"text":{"field":"ci"}}},
{"transform":[{"filter":"datum.type=='s'"}],"mark":{"type":"text","align":"right"},"encoding":{"x":{"datum":11,"type":"quantitative","axis":null},"text":{"field":"w","type":"quantitative","format":".1%"}}},
{"transform":[{"filter":"datum.type=='m'"}],"mark":{"type":"text","align":"left","fontWeight":"bold"},"encoding":{"x":{"datum":1,"type":"quantitative","axis":null},"text":{"field":"study"}}},
{"transform":[{"filter":"datum.type=='m'"}],"mark":{"type":"text","align":"right","fontWeight":"bold"},"encoding":{"x":{"datum":2,"type":"quantitative","axis":null},"text":{"field":"n_pre","type":"quantitative","format":"d"}}},
{"transform":[{"filter":"datum.type=='m'"}],"mark":{"type":"text","align":"right","fontWeight":"bold"},"encoding":{"x":{"datum":5,"type":"quantitative","axis":null},"text":{"field":"n_post","type":"quantitative","format":"d"}}},
{"transform":[{"filter":"datum.type=='m'"}],"mark":{"type":"text","align":"right","fontWeight":"bold"},"encoding":{"x":{"datum":9,"type":"quantitative","axis":null},"text":{"field":"est","type":"quantitative","format":".2f"}}},
{"transform":[{"filter":"datum.type=='m'"}],"mark":{"type":"text","align":"right","fontWeight":"bold"},"encoding":{"x":{"datum":10,"type":"quantitative","axis":null},"text":{"field":"ci"}}},
{"transform":[{"filter":"datum.type=='m'"}],"mark":{"type":"text","align":"right","fontWeight":"bold"},"encoding":{"x":{"datum":11,"type":"quantitative","axis":null},"text":{"field":"w","type":"quantitative","format":".1%"}}},
{"transform":[{"filter":"datum.type=='m'"}],"mark":{"type":"text","align":"left","fontSize":13,"dy":18},"encoding":{"x":{"datum":1,"type":"quantitative","axis":null},"text":{"field":"het"}}},
{"transform":[{"filter":"datum.type=='m'"}],"mark":{"type":"text","align":"center","fontWeight":"bold","dy":21},"encoding":{"x":{"datum":9.5,"type":"quantitative","axis":null},"text":{"field":"p"}}}
]},
{"resolve":{"scale":{"size":"independent"}},"layer":[
{"transform":[{"filter":"datum.type=='m'"}],"mark":{"type":"rule"},"encoding":{"x":{"datum":0,"type":"quantitative","axis":null,"scale":{"domain":[-1,1],"range":[548,723],"nice":false,"zero":false}},"y":{"datum":-0.62,"type":"quantitative","axis":null},"y2":{"datum":5.547}}},
{"transform":[{"filter":"datum.type=='m'"},{"flatten":["ticks"]}],"mark":{"type":"line","strokeWidth":1.4},"encoding":{"x":{"field":"ticks","type":"quantitative","axis":null},"y":{"datum":5.547,"type":"quantitative","axis":null}}},
{"transform":[{"filter":"datum.type=='m'"},{"flatten":["ticks"]}],"mark":{"type":"rule","strokeWidth":1.4,"y2Offset":9},"encoding":{"x":{"field":"ticks","type":"quantitative","axis":null},"y":{"datum":5.547,"type":"quantitative","axis":null},"y2":{"datum":5.547}}},
{"transform":[{"filter":"datum.type=='m'"},{"flatten":["ticks"]}],"mark":{"type":"text","align":"center","fontSize":15,"dy":23},"encoding":{"x":{"field":"ticks","type":"quantitative","axis":null},"y":{"datum":5.547,"type":"quantitative","axis":null},"text":{"field":"ticks","type":"quantitative","format":"~g"}}},
{"transform":[{"filter":"datum.type=='m'"}],"mark":{"type":"rule","strokeDash":[6,4],"y2Offset":-6},"encoding":{"x":{"field":"est","type":"quantitative","axis":null},"y":{"datum":-0.62,"type":"quantitative","axis":null},"y2":{"field":"row"}}},
{"transform":[{"filter":"datum.type=='s'"}],"mark":{"type":"square","color":"#BEBEBE","opacity":1},"encoding":{"x":{"field":"est","type":"quantitative","axis":null},"size":{"field":"w","type":"quantitative","scale":{"domain":[0,0.406],"range":[0,272]},"legend":null}}},
{"transform":[{"filter":"datum.type=='s'"}],"mark":{"type":"rule"},"encoding":{"x":{"field":"lo","type":"quantitative","axis":null},"x2":{"field":"hi"}}},
{"transform":[{"filter":"datum.type=='s'"}],"mark":{"type":"tick","orient":"vertical","size":6,"thickness":2},"encoding":{"x":{"field":"est","type":"quantitative","axis":null}}},
{"transform":[{"filter":"datum.type=='m'"},{"fold":["lo","est","hi"],"as":["k","v"]}],"mark":{"type":"trail","color":"#BEBEBE"},"encoding":{"x":{"field":"v","type":"quantitative","axis":null},"size":{"field":"k","type":"nominal","scale":{"type":"ordinal","domain":["lo","est","hi"],"range":[0,11,0]},"legend":null},"order":{"field":"v","type":"quantitative"}}},
{"transform":[{"filter":"datum.type=='m'"}],"mark":{"type":"rule","strokeWidth":1.3,"y2Offset":-5.5},"encoding":{"x":{"field":"lo","type":"quantitative","axis":null},"x2":{"field":"est"},"y2":{"field":"row"}}},
{"transform":[{"filter":"datum.type=='m'"}],"mark":{"type":"rule","strokeWidth":1.3,"y2Offset":5.5},"encoding":{"x":{"field":"lo","type":"quantitative","axis":null},"x2":{"field":"est"},"y2":{"field":"row"}}},
{"transform":[{"filter":"datum.type=='m'"}],"mark":{"type":"rule","strokeWidth":1.3,"yOffset":-5.5},"encoding":{"x":{"field":"est","type":"quantitative","axis":null},"x2":{"field":"hi"},"y2":{"field":"row"}}},
{"transform":[{"filter":"datum.type=='m'"}],"mark":{"type":"rule","strokeWidth":1.3,"yOffset":5.5},"encoding":{"x":{"field":"est","type":"quantitative","axis":null},"x2":{"field":"hi"},"y2":{"field":"row"}}}
]}
]
}
]
}
